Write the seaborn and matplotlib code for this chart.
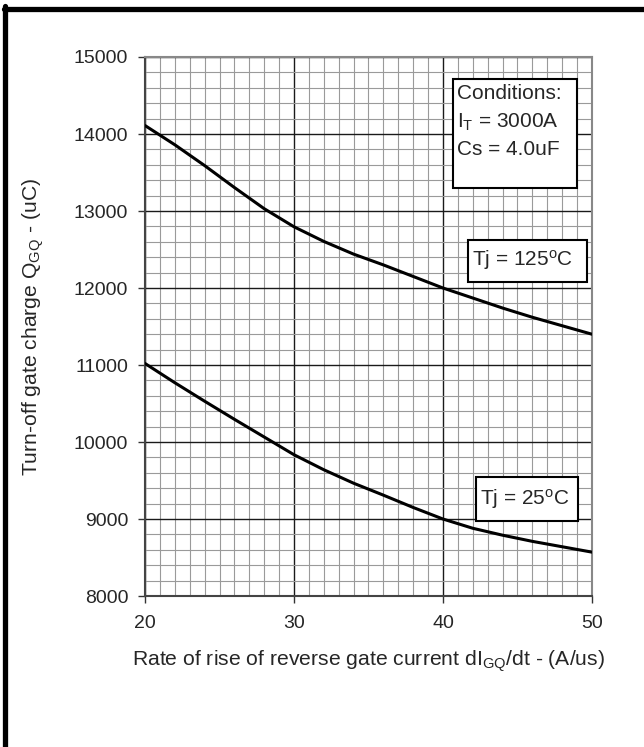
import matplotlib
matplotlib.use("Agg")
import matplotlib.pyplot as plt
import seaborn as sns
import pandas as pd
from matplotlib.ticker import MultipleLocator
from matplotlib.patches import Rectangle
from matplotlib.lines import Line2D

# ---- data ----
didt = [20, 22, 24, 26, 28, 30, 32, 34, 36, 38, 40, 42, 44, 46, 48, 50]
q_125 = [14110, 13860, 13590, 13305, 13030, 12795, 12605, 12440, 12300, 12150,
         12000, 11870, 11740, 11620, 11510, 11400]
q_25 = [11020, 10770, 10530, 10295, 10065, 9835, 9640, 9465, 9310, 9150,
        9000, 8880, 8790, 8710, 8640, 8570]
series_names = ["Tj = 125C", "Tj = 25C"]
x_ticks = [20, 30, 40, 50]
y_ticks = [8000, 9000, 10000, 11000, 12000, 13000, 14000, 15000]

df = pd.DataFrame({
    "didt": didt + didt,
    "q": q_125 + q_25,
    "series": [series_names[0]] * len(didt) + [series_names[1]] * len(didt),
})

sns.set_style("white")
plt.rcParams["font.family"] = ["Liberation Sans", "DejaVu Sans"]
plt.rcParams["mathtext.fontset"] = "custom"
plt.rcParams["mathtext.rm"] = "Liberation Sans"
plt.rcParams["mathtext.it"] = "Liberation Sans"

fig = plt.figure(figsize=(6.44, 7.47), dpi=100)
ax = fig.add_axes([0.2252, 0.2021, 0.694, 0.7216])

sns.lineplot(data=df, x="didt", y="q", hue="series", units="series", estimator=None,
             palette={series_names[0]: "black", series_names[1]: "black"},
             linewidth=2.2, legend=False, ax=ax, zorder=5)

ax.set_xlim(20, 50)
ax.set_ylim(8000, 15000)
ax.set_xticks(x_ticks)
ax.set_yticks(y_ticks)
ax.xaxis.set_minor_locator(MultipleLocator(1))
ax.yaxis.set_minor_locator(MultipleLocator(200))
ax.grid(which="minor", color="#9a9a9a", linewidth=0.8, zorder=0)
ax.grid(which="major", color="#1a1a1a", linewidth=1.0, zorder=1)
ax.set_axisbelow(True)
ax.tick_params(which="minor", length=0)
ax.tick_params(which="major", direction="out", length=5, width=1, color="#333333",
               labelsize=14, pad=7, left=True, bottom=True)
ax.tick_params(axis="x", which="major", pad=9)

for s in ["left", "bottom"]:
    ax.spines[s].set_color("#444444")
    ax.spines[s].set_linewidth(1.5)
for s in ["top", "right"]:
    ax.spines[s].set_color("#888888")
    ax.spines[s].set_linewidth(1.5)

ax.set_xlabel(r"Rate of rise of reverse gate current dI$_\mathregular{GQ}$/dt - (A/us)",
              fontsize=15.2)
ax.set_ylabel(r"Turn-off gate charge Q$_\mathregular{GQ}$ - (uC)", fontsize=15.2)
ax.xaxis.set_label_coords(0.499, -0.1206)
ax.yaxis.set_label_coords(-0.2506, 0.5)
ax.xaxis.label.set_va("center")
ax.yaxis.label.set_va("center")

# annotation boxes
ax.add_patch(Rectangle((0.688, 0.7575), 0.279, 0.2011, transform=ax.transAxes,
                       facecolor="white", edgecolor="black", linewidth=1.5, zorder=6))
ax.text(0.699, 0.933, "Conditions:", transform=ax.transAxes, fontsize=15,
        va="center", ha="left", zorder=7)
ax.text(0.699, 0.879, r"I$_\mathregular{T}$ = 3000A", transform=ax.transAxes, fontsize=15,
        va="center", ha="left", zorder=7)
ax.text(0.699, 0.8275, "Cs = 4.0uF", transform=ax.transAxes, fontsize=15,
        va="center", ha="left", zorder=7)

ax.add_patch(Rectangle((0.722, 0.583), 0.268, 0.0775, transform=ax.transAxes,
                       facecolor="white", edgecolor="black", linewidth=1.5, zorder=6))
ax.text(0.731, 0.6234, r"Tj = 125$^\mathregular{o}$C", transform=ax.transAxes, fontsize=15,
        va="center", ha="left", zorder=7)

ax.add_patch(Rectangle((0.7398, 0.139), 0.2296, 0.0812, transform=ax.transAxes,
                       facecolor="white", edgecolor="black", linewidth=1.5, zorder=6))
ax.text(0.749, 0.18, r"Tj = 25$^\mathregular{o}$C", transform=ax.transAxes, fontsize=15,
        va="center", ha="left", zorder=7)

# page frame (top and left)
fig.add_artist(Line2D([0.0055, 1.0], [1 - 8.5 / 747, 1 - 8.5 / 747],
                      transform=fig.transFigure, color="black", linewidth=3.8))
fig.add_artist(Line2D([5 / 644, 5 / 644], [0, 1 - 6 / 747],
                      transform=fig.transFigure, color="black", linewidth=3.8))

fig.savefig("out.png", dpi=100)
